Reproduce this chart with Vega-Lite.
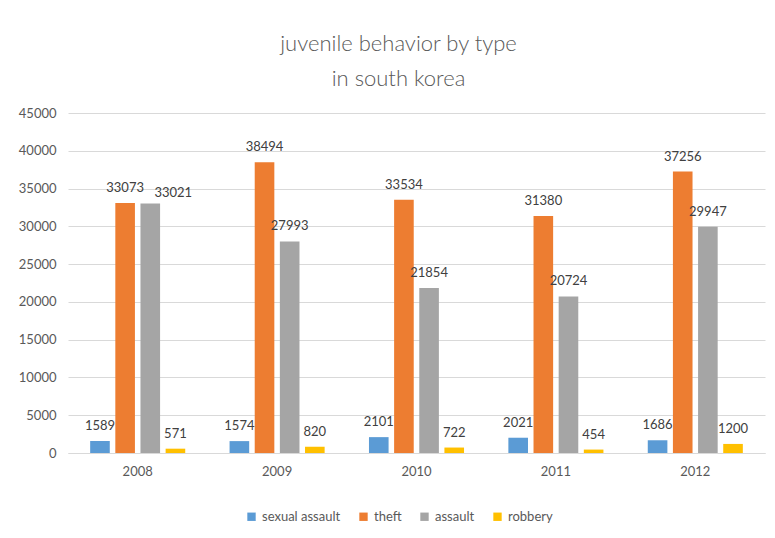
{
  "$schema": "https://vega.github.io/schema/vega-lite/v6.json",
  "autosize": "none",
  "width": 697,
  "height": 340,
  "padding": {"left": 68, "top": 113, "right": 10, "bottom": 85},
  "background": "white",
  "title": {
    "text": ["juvenile behavior by type", "in south korea"],
    "font": "Lato",
    "fontSize": 22,
    "fontWeight": 300,
    "color": "#595959",
    "lineHeight": 35,
    "anchor": "middle",
    "dx": -18,
    "offset": 16
  },
  "data": {
    "values": [
      {"year": "2008", "type": "sexual assault", "count": 1589},
      {"year": "2008", "type": "theft", "count": 33073},
      {"year": "2008", "type": "assault", "count": 33021},
      {"year": "2008", "type": "robbery", "count": 571},
      {"year": "2009", "type": "sexual assault", "count": 1574},
      {"year": "2009", "type": "theft", "count": 38494},
      {"year": "2009", "type": "assault", "count": 27993},
      {"year": "2009", "type": "robbery", "count": 820},
      {"year": "2010", "type": "sexual assault", "count": 2101},
      {"year": "2010", "type": "theft", "count": 33534},
      {"year": "2010", "type": "assault", "count": 21854},
      {"year": "2010", "type": "robbery", "count": 722},
      {"year": "2011", "type": "sexual assault", "count": 2021},
      {"year": "2011", "type": "theft", "count": 31380},
      {"year": "2011", "type": "assault", "count": 20724},
      {"year": "2011", "type": "robbery", "count": 454},
      {"year": "2012", "type": "sexual assault", "count": 1686},
      {"year": "2012", "type": "theft", "count": 37256},
      {"year": "2012", "type": "assault", "count": 29947},
      {"year": "2012", "type": "robbery", "count": 1200}
    ]
  },
  "encoding": {
    "x": {
      "field": "year",
      "type": "nominal",
      "scale": {"paddingInner": 0.3, "paddingOuter": 0.15},
      "axis": {
        "title": null,
        "labelAngle": 0,
        "labelFont": "Lato",
        "labelFontSize": 13,
        "labelColor": "#595959",
        "labelPadding": 12,
        "ticks": false,
        "domainColor": "#d9d9d9",
        "grid": false
      }
    },
    "xOffset": {
      "field": "type",
      "type": "nominal",
      "sort": ["sexual assault", "theft", "assault", "robbery"],
      "scale": {"paddingInner": 0.22, "paddingOuter": 0.05}
    },
    "y": {
      "field": "count",
      "type": "quantitative",
      "scale": {"domain": [0, 45000], "nice": false},
      "axis": {
        "title": null,
        "values": [0, 5000, 10000, 15000, 20000, 25000, 30000, 35000, 40000, 45000],
        "format": "d",
        "labelFont": "Lato",
        "labelFontSize": 13,
        "labelColor": "#595959",
        "labelPadding": 12,
        "ticks": false,
        "domain": false,
        "gridColor": "#d9d9d9"
      }
    }
  },
  "layer": [
    {
      "mark": {"type": "bar"},
      "encoding": {
        "color": {
          "field": "type",
          "type": "nominal",
          "sort": ["sexual assault", "theft", "assault", "robbery"],
          "scale": {
            "domain": ["sexual assault", "theft", "assault", "robbery"],
            "range": ["#5B9BD5", "#ED7D31", "#A5A5A5", "#FFC000"]
          },
          "legend": {
            "title": null,
            "orient": "none",
            "legendX": 177,
            "legendY": 397,
            "direction": "horizontal",
            "symbolType": "square",
            "symbolSize": 70,
            "labelFont": "Lato",
            "labelFontSize": 13,
            "labelColor": "#595959",
            "columnPadding": 16
          }
        }
      }
    },
    {
      "transform": [{"filter": "!(datum.year === '2008' && datum.type === 'assault')"}],
      "mark": {"type": "text", "baseline": "bottom", "dy": -8, "font": "Lato", "fontSize": 13, "color": "#404040"},
      "encoding": {
        "text": {"field": "count", "type": "quantitative", "format": "d"}
      }
    },
    {
      "transform": [{"filter": "datum.year === '2008' && datum.type === 'assault'"}],
      "mark": {"type": "text", "baseline": "bottom", "dx": 23, "dy": -4, "font": "Lato", "fontSize": 13, "color": "#404040"},
      "encoding": {
        "text": {"field": "count", "type": "quantitative", "format": "d"}
      }
    }
  ],
  "config": {"view": {"stroke": null}}
}
